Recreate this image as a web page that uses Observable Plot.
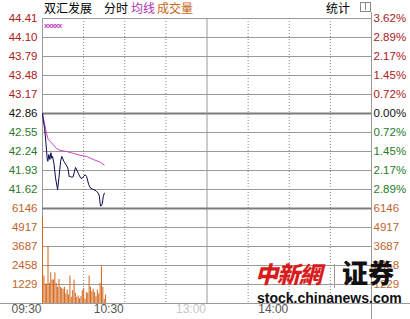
<!DOCTYPE html>
<html>
<head>
<meta charset="utf-8">
<script src="https://cdn.jsdelivr.net/npm/d3@7"></script>
<script src="https://cdn.jsdelivr.net/npm/@observablehq/plot@0.6"></script>
<style>
  html, body { margin: 0; padding: 0; background: #fff; }
  #wrap { position: relative; width: 410px; height: 319px; overflow: hidden; background: #fff;
          font-family: "Liberation Sans", Arial, sans-serif; }
</style>
</head>
<body>
<div id="wrap"></div>
<script>
// ---- data ----
const stockName = "双汇发展";
const prevClose = 42.86;
const priceTicks = [44.41, 44.10, 43.79, 43.48, 43.17, 42.86, 42.55, 42.24, 41.93, 41.62];
const pctLabels = ["3.62%", "2.89%", "2.17%", "1.45%", "0.72%", "0.00%", "0.72%", "1.45%", "2.17%", "2.89%"];
const priceDomain = [41.31, 44.41];
const volTicks = [6146, 4917, 3687, 2458, 1229];
const volDomain = [0, 6146];
const timeTickMinutes = [0, 60, 120, 180];
const timeTickLabels = ["09:30", "10:30", "13:00", "14:00"];
const dottedMinutes = [30, 60, 90, 150, 180, 210];
const solidMinutes = [0, 120, 240];

// minute offsets since 09:30 and prices of the price line
const priceMinutes = [0, 0.5, 1.5, 2.4, 3, 3.4, 3.9, 4.6, 5.4, 6.1, 6.8, 7.3, 8.3, 9.5, 11, 12, 13.2, 14.1, 15.6, 17,
  18.5, 19.5, 20.5, 21.5, 22.4, 23.4, 24.1, 25.4, 26.6, 27.8, 28.8, 29.8, 31.2, 32.2, 33.7, 35.1, 37.1, 39, 40.7, 41.5,
  42, 42.4, 43.4, 44.4, 45.1];
const priceValues = [42.86, 42.76, 42.62, 42.41, 42.24, 42.13, 42.08, 42.19, 42.11, 42.22, 42.13, 42.16, 42.05, 41.81, 41.62, 41.81, 42.08, 42.16, 42.08, 42.03,
  41.97, 41.83, 41.83, 41.82, 41.83, 41.92, 41.98, 41.92, 41.86, 41.81, 41.80, 41.83, 41.86, 41.83, 41.70, 41.64, 41.62, 41.60, 41.56, 41.51,
  41.40, 41.35, 41.37, 41.51, 41.56];

// average price line
const avgMinutes = [0, 1.7, 2.9, 4.1, 6.6, 10.2, 12.6, 17.5, 22.4, 27.2, 32.1, 37, 41.8, 45];
const avgValues = [42.86, 42.67, 42.54, 42.44, 42.38, 42.29, 42.26, 42.24, 42.21, 42.18, 42.16, 42.11, 42.07, 42.02];

// per-minute volume bars (minute 0 .. 46)
const volumes = [5660, 1780, 1260, 1260, 3680, 1300, 1990, 1520, 1520, 1990, 1300, 1050, 1560, 1050, 980, 920, 1050, 620, 870, 550,
  1780, 400, 830, 1520, 660, 400, 485, 313, 440, 830, 980, 270, 700, 660, 1780, 1050, 765, 920, 700, 440,
  870, 615, 1300, 2380, 1050, 270, 550];

// ---- colours ----
const RED = "#aa2020", GREEN = "#2a7a2a", BLACK = "#111", VOLC = "#c0642c";
const GRID = "#9a9a9a", THICK = "#7c7c7c";
const priceColor = p => p > prevClose ? RED : (p < prevClose ? GREEN : BLACK);

const priceData = priceMinutes.map((m, i) => ({m, p: priceValues[i]}));
const avgData = avgMinutes.map((m, i) => ({m, p: avgValues[i]}));
const volData = volumes.map((v, m) => ({m, v}));
const pTickData = priceTicks.map((p, i) => ({p, pct: pctLabels[i]}));
const tData = timeTickMinutes.map((m, i) => ({m, label: timeTickLabels[i]}));

const common = {
  width: 410, marginLeft: 42, marginRight: 39,
  x: {domain: [0, 240], axis: null},
  color: {type: "identity"},
  style: {background: "transparent", fontFamily: "'Liberation Sans', Arial, sans-serif", fontSize: "11.5px", overflow: "visible"}
};

const pricePlot = Plot.plot({
  ...common,
  height: 208, marginTop: 18, marginBottom: 0,
  y: {domain: priceDomain, axis: null},
  marks: [
    Plot.ruleY(priceTicks.filter(d => d !== prevClose), {stroke: GRID}),
    Plot.ruleY([prevClose], {stroke: THICK, strokeWidth: 2}),
    Plot.ruleX(dottedMinutes, {stroke: "#888", strokeDasharray: "1,2"}),
    Plot.ruleX(solidMinutes, {stroke: GRID}),
    Plot.line(avgData, {x: "m", y: "p", stroke: "#c848c8", strokeWidth: 1}),
    Plot.line(priceData, {x: "m", y: "p", stroke: "#0a0a50", strokeWidth: 1}),
    Plot.text(priceTicks, {y: d => d, text: d => d.toFixed(2), frameAnchor: "left", dx: -5, textAnchor: "end", fill: d => priceColor(d)}),
    Plot.text(pTickData, {y: "p", text: "pct", frameAnchor: "right", dx: 2, textAnchor: "start", fill: d => priceColor(d.p)})
  ]
});

const volPlot = Plot.plot({
  ...common,
  height: 119, marginTop: 8, marginBottom: 16,
  y: {domain: volDomain, axis: null},
  marks: [
    Plot.ruleY(volTicks.filter(d => d !== volDomain[1]), {stroke: GRID}),
    Plot.ruleY([volDomain[0]], {stroke: GRID}),
    Plot.ruleX(dottedMinutes, {stroke: "#888", strokeDasharray: "1,2"}),
    Plot.ruleX(solidMinutes, {stroke: GRID}),
    Plot.rect(volData, {x1: d => d.m, x2: d => d.m + 0.75, y1: d => 0, y2: "v", fill: "#d4691f"}),
    Plot.ruleY([volDomain[1]], {stroke: THICK, strokeWidth: 2}),
    Plot.text(volTicks, {y: d => d, text: d => String(d), frameAnchor: "left", dx: -5, textAnchor: "end", fill: VOLC}),
    Plot.text(volTicks, {y: d => d, text: d => String(d), frameAnchor: "right", dx: 2, textAnchor: "start", fill: VOLC}),
    Plot.text(tData, {x: "m", text: "label", frameAnchor: "bottom", dy: 9, dx: -1, textAnchor: "end",
      fill: d => d.m === 120 ? "#c8c8c8" : "#555", fontSize: 12})
  ]
});

const wrap = document.getElementById("wrap");
function place(el, top) { el.style.position = "absolute"; el.style.left = "0px"; el.style.top = top + "px"; wrap.appendChild(el); }
place(pricePlot, 0);
place(volPlot, 200);

function addDiv(html, css) { const d = document.createElement("div"); d.innerHTML = html; d.style.cssText = "position:absolute;white-space:nowrap;" + css; wrap.appendChild(d); return d; }
const CJK = "font-family:'Noto Sans CJK SC',sans-serif;font-size:12px;line-height:14px;";
// header
addDiv(stockName, "top:1px;left:44px;" + CJK + "color:#000;");
addDiv("分时", "top:1px;left:104px;" + CJK + "color:#000;");
addDiv("均线", "top:1px;left:131px;" + CJK + "color:#b030b0;");
addDiv("成交量", "top:1px;left:157px;" + CJK + "color:#c8641a;");
addDiv("统计", "top:1px;left:326px;" + CJK + "color:#000;");
addDiv("", "top:2px;left:360px;width:9px;height:8px;border:1px solid #888;");
addDiv("", "top:3px;left:365px;width:1px;height:7px;background:#888;");
// tiny legend marker
addDiv("xxxxx", "top:22px;left:44px;font-size:8px;line-height:8px;color:#c040c0;letter-spacing:-1px;font-weight:bold;");
// frame lines
addDiv("", "top:303px;left:0px;width:410px;height:1px;background:#9a9a9a;");
addDiv("", "top:12px;left:371px;width:1px;height:307px;background:#9a9a9a;");
// watermark
addDiv("中新網", "top:258px;left:255px;font-family:'Noto Sans CJK TC',sans-serif;font-weight:900;font-size:23px;line-height:30px;color:#d81c1c;letter-spacing:-1px;font-style:italic;");
addDiv("", "top:264px;left:334px;width:1px;height:24px;background:#999;");
addDiv("证券", "top:256px;left:342px;font-family:'Noto Sans CJK SC',sans-serif;font-weight:900;font-size:26px;line-height:32px;color:#111;");
addDiv("stock.chinanews.com", "top:290px;left:257px;font-family:'Liberation Sans',Arial,sans-serif;font-weight:bold;font-size:14px;line-height:16px;color:#111;");
</script>
</body>
</html>
